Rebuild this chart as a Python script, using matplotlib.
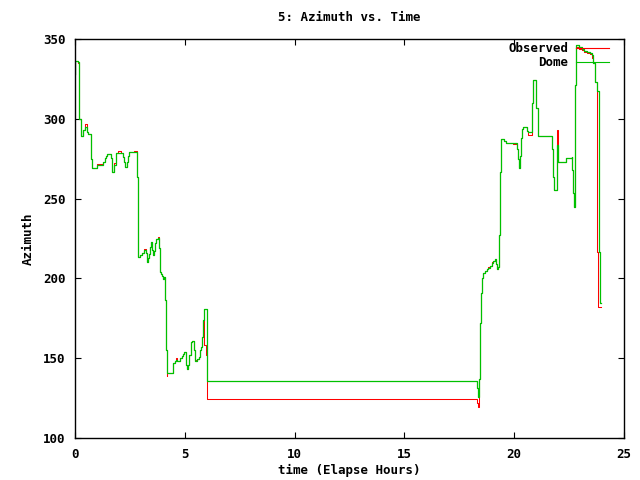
import matplotlib
matplotlib.use("Agg")
import matplotlib.pyplot as plt
from matplotlib.lines import Line2D

title = "5: Azimuth vs. Time"
xlabel = "time (Elapse Hours)"
ylabel = "Azimuth"
series_names = ["Observed", "Dome"]

hours = [0.00, 0.01, 0.02, 0.15, 0.20, 0.27, 0.38, 0.46, 0.53, 0.61,
         0.71, 0.74, 0.79, 0.99, 1.29, 1.37, 1.41, 1.44, 1.62, 1.67,
         1.70, 1.79, 1.85, 1.88, 1.95, 2.10, 2.20, 2.25, 2.29, 2.38,
         2.43, 2.47, 2.70, 2.81, 2.85, 2.88, 2.97, 3.04, 3.13, 3.22,
         3.26, 3.29, 3.34, 3.39, 3.43, 3.46, 3.49, 3.53, 3.58, 3.64,
         3.71, 3.79, 3.82, 3.86, 3.89, 3.92, 3.98, 4.02, 4.07, 4.11,
         4.16, 4.17, 4.20, 4.48, 4.56, 4.60, 4.66, 4.78, 4.86, 4.93,
         4.98, 5.04, 5.09, 5.13, 5.19, 5.27, 5.34, 5.42, 5.48, 5.56,
         5.63, 5.69, 5.73, 5.79, 5.83, 5.88, 5.96, 6.00, 18.32, 18.36,
         18.39, 18.41, 18.44, 18.49, 18.55, 18.59, 18.67, 18.74, 18.82, 18.90,
         18.97, 19.05, 19.12, 19.17, 19.20, 19.27, 19.32, 19.35, 19.40, 19.55,
         19.62, 19.95, 20.11, 20.18, 20.23, 20.26, 20.29, 20.34, 20.38, 20.60,
         20.65, 20.81, 20.87, 21.00, 21.07, 21.71, 21.75, 21.83, 21.93, 21.98,
         22.01, 22.36, 22.62, 22.65, 22.69, 22.74, 22.77, 22.81, 22.96, 23.07,
         23.18, 23.30, 23.45, 23.56, 23.60, 23.68, 23.76, 23.79, 23.83, 23.87,
         23.91, 23.93]

dome = [328.0, 332.0, 336.5, 335.5, 300.0, 289.0, 293.0, 295.0, 292.0, 290.5,
        285.0, 275.0, 269.0, 271.0, 273.0, 275.3, 277.0, 277.8, 275.3, 269.6,
        266.5, 271.0, 275.3, 278.4, 278.4, 278.4, 276.3, 273.0, 270.0, 273.0,
        276.7, 279.0, 279.0, 263.4, 230.3, 213.2, 214.7, 216.1, 217.8, 216.0,
        212.6, 210.5, 212.6, 215.3, 219.9, 223.0, 217.5, 214.7, 217.4, 222.0,
        224.5, 225.1, 218.9, 207.3, 204.2, 202.5, 201.5, 199.4, 201.0, 186.5,
        155.0, 140.5, 140.5, 146.8, 148.2, 148.9, 148.2, 150.0, 151.4, 152.8,
        154.1, 145.7, 143.2, 145.7, 152.0, 160.3, 161.0, 155.1, 148.4, 149.5,
        150.9, 155.1, 156.8, 163.5, 174.0, 180.6, 180.6, 135.9, 131.1, 125.9,
        135.3, 137.0, 171.9, 190.7, 200.1, 203.6, 204.9, 205.7, 206.7, 208.0,
        209.4, 211.1, 212.2, 209.0, 205.7, 207.0, 227.2, 266.9, 287.2, 285.8,
        284.8, 284.8, 281.0, 274.7, 269.4, 276.7, 287.8, 293.4, 294.7, 292.5,
        292.0, 310.0, 324.3, 306.6, 289.2, 280.9, 263.7, 255.4, 283.6, 278.4,
        273.1, 275.3, 276.3, 267.9, 253.3, 245.0, 321.2, 346.2, 344.8, 343.5,
        342.6, 342.0, 341.4, 340.0, 334.8, 323.3, 317.6, 317.6, 317.6, 216.7,
        184.4, 184.4]

observed = [328.0, 332.0, 336.5, 334.8, 300.0, 289.0, 293.0, 296.5, 292.0, 290.5,
            285.0, 275.0, 269.0, 271.5, 273.0, 275.3, 277.0, 277.8, 275.3, 269.6,
            266.5, 272.0, 275.3, 278.4, 279.8, 278.4, 276.3, 273.0, 270.0, 273.0,
            276.7, 279.0, 279.8, 263.4, 230.3, 213.2, 214.7, 216.1, 218.5, 216.0,
            212.6, 210.5, 212.6, 215.3, 219.9, 223.0, 217.5, 214.7, 217.4, 222.0,
            224.5, 225.8, 218.9, 207.3, 204.2, 202.5, 201.5, 199.4, 201.0, 186.5,
            155.0, 138.8, 140.5, 146.8, 148.2, 149.9, 148.2, 150.0, 151.4, 152.8,
            154.1, 145.7, 143.2, 145.7, 152.0, 160.3, 161.0, 155.1, 149.0, 149.5,
            150.9, 155.1, 156.8, 163.5, 174.0, 158.3, 152.0, 124.2, 121.7, 119.4,
            119.4, 137.0, 171.9, 190.7, 200.1, 203.6, 204.9, 205.7, 207.3, 208.0,
            210.0, 211.1, 212.2, 209.0, 205.7, 207.0, 227.2, 266.9, 287.2, 285.8,
            284.8, 284.2, 281.0, 274.7, 269.4, 276.7, 287.8, 293.4, 294.7, 292.5,
            289.8, 310.0, 324.3, 306.6, 289.2, 280.9, 263.7, 255.4, 293.0, 278.4,
            273.1, 275.3, 276.3, 267.9, 253.3, 245.0, 321.2, 345.0, 343.8, 342.8,
            342.0, 341.4, 340.6, 338.0, 334.8, 323.3, 317.6, 216.7, 182.3, 182.3,
            182.3, 182.3]

xticks = [0, 5, 10, 15, 20, 25]
yticks = [100, 150, 200, 250, 300, 350]

RED = "#ff0000"
GREEN = "#00c000"
FONT = {"family": "DejaVu Sans Mono", "weight": "bold", "size": 9}

fig = plt.figure(figsize=(6.4, 4.8), dpi=100)
ax = fig.add_axes([75 / 640, 42 / 480, 549 / 640, 399 / 480])

ax.step(hours, observed, where="post", color=RED, lw=0.75)
ax.step(hours, dome, where="post", color=GREEN, lw=0.9)

ax.set_xlim(0, 25)
ax.set_ylim(100, 350)
ax.set_xticks(xticks)
ax.set_yticks(yticks)
ax.tick_params(direction="in", length=4.5, width=0.8, top=True, right=True,
               labelsize=9, pad=7)
for lab in ax.get_xticklabels() + ax.get_yticklabels():
    lab.set_fontfamily("DejaVu Sans Mono")
    lab.set_fontweight("bold")
for sp in ax.spines.values():
    sp.set_linewidth(1.0)

ax.set_title(title, fontdict=FONT, pad=13)
ax.set_xlabel(xlabel, fontdict=FONT, labelpad=2)
ax.set_ylabel(ylabel, fontdict=FONT, labelpad=6)

# key (gnuplot style: right-aligned text then sample line)
ky = [0.977, 0.942]
for name, col, yy in zip(series_names, [RED, GREEN], ky):
    ax.text(0.898, yy, name, transform=ax.transAxes, ha="right", va="center",
            fontdict=FONT)
    ax.add_line(Line2D([0.9126, 0.9727], [yy, yy], transform=ax.transAxes,
                       color=col, lw=0.8))

fig.savefig("out.png", dpi=100)
